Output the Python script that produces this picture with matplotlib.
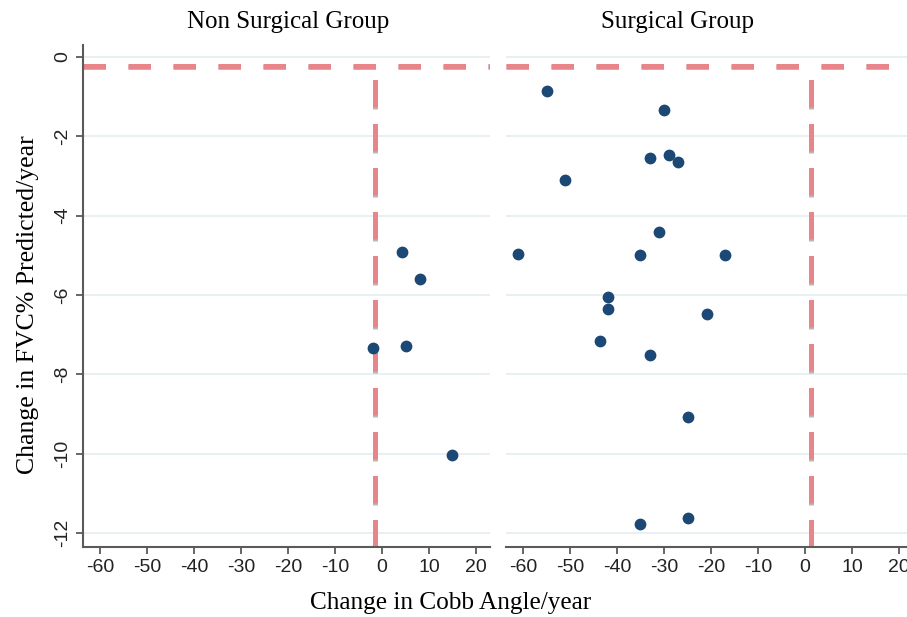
import matplotlib.pyplot as plt
import matplotlib.patheffects as pe

plt.rcParams['axes.unicode_minus'] = False

# data
nonsurg_cobb = [4.2, 8.1, -2.0, 5.1, 15.0]
nonsurg_fvc = [-4.91, -5.6, -7.34, -7.28, -10.03]

surg_cobb = [-54.9, -30.0, -33.0, -29.1, -27.1, -51.1, -31.1, -61.1, -35.1, -17.0,
             -41.9, -41.9, -21.0, -43.8, -33.0, -25.0, -25.0, -35.1]
surg_fvc = [-0.85, -1.34, -2.56, -2.46, -2.65, -3.10, -4.42, -4.97, -5.0, -4.99,
            -6.06, -6.36, -6.47, -7.15, -7.50, -9.07, -11.63, -11.78]

# reference lines (group means)
ref_fvc = -0.22
ref_cobb = [-1.5, 1.2]

titles = ["Non Surgical Group", "Surgical Group"]
xticks = [-60, -50, -40, -30, -20, -10, 0, 10, 20]
yticks = [0, -2, -4, -6, -8, -10, -12]

serif = "Liberation Serif"
sans = "Liberation Sans"
red = "#e8858a"
navy = "#1b4875"
spine_col = "#5a5a5a"
grid_col = "#e4edf0"

fig = plt.figure(figsize=(9.07, 6.17), dpi=100)
ax1 = fig.add_axes([0.0915, 0.1135, 0.4487, 0.8136])
ax2 = fig.add_axes([0.558, 0.1135, 0.4487, 0.8136])

shadow = [pe.SimpleLineShadow(offset=(0, -1.3), shadow_color="#8a8a8a", alpha=0.6), pe.Normal()]

for i, (ax, xs, ys) in enumerate([(ax1, nonsurg_cobb, nonsurg_fvc), (ax2, surg_cobb, surg_fvc)]):
    ax.set_xlim(-63.7, 23.0)
    ax.set_ylim(-12.35, 0.3)
    ax.set_yticks(yticks)
    ax.set_xticks(xticks)
    for y in yticks:
        ax.axhline(y, color=grid_col, lw=1.2, zorder=0)
    ax.axhline(ref_fvc, color=red, lw=3.6, dashes=(4.5, 4.5), zorder=2, path_effects=shadow)
    ax.plot([ref_cobb[i], ref_cobb[i]], [-12.35, -0.36], color=red, lw=3.6,
            dashes=(5.5, 3.3), zorder=2, path_effects=shadow)
    ax.scatter(xs, ys, s=72, color=navy, zorder=3, linewidths=0)
    for s in ["top", "right"]:
        ax.spines[s].set_visible(False)
    ax.spines["bottom"].set_color(spine_col)
    ax.spines["bottom"].set_linewidth(1.5)
    ax.spines["left"].set_color(spine_col)
    ax.spines["left"].set_linewidth(1.5)
    ax.tick_params(colors=spine_col, width=1.3, length=5, labelcolor="#222222")
    for lab in ax.get_xticklabels():
        lab.set_fontfamily(sans)
        lab.set_fontsize(14)
    for lab in ax.get_yticklabels():
        lab.set_fontfamily(sans)
        lab.set_fontsize(14)
        lab.set_rotation(90)
        lab.set_va("center")

ax2.spines["left"].set_visible(False)
ax2.tick_params(axis="y", left=False, labelleft=False)

fig.text(0.3175, 0.964, titles[0], ha="center", va="center", family=serif, fontsize=18)
fig.text(0.747, 0.964, titles[1], ha="center", va="center", family=serif, fontsize=18)
fig.text(0.497, 0.022, "Change in Cobb Angle/year", ha="center", va="center",
         family=serif, fontsize=18.2)
fig.text(0.031, 0.507, "Change in FVC% Predicted/year", ha="center", va="center",
         rotation=90, family=serif, fontsize=18.5)

fig.savefig("out.png", dpi=100)
